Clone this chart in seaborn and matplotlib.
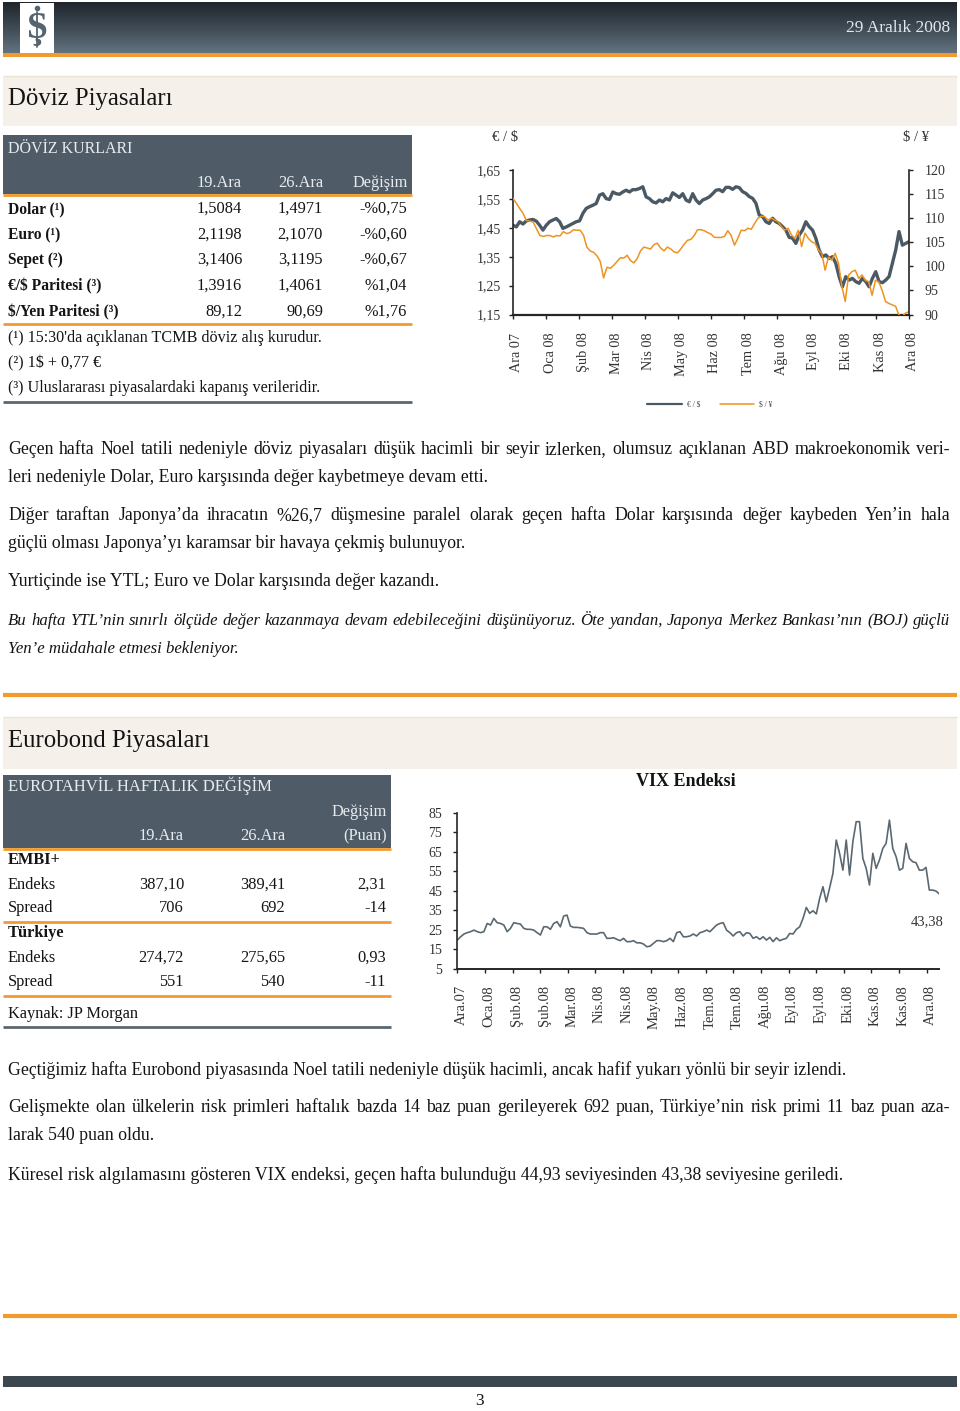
import numpy as np
import pandas as pd
import matplotlib
matplotlib.use("Agg")
import matplotlib.pyplot as plt
import seaborn as sns
from matplotlib.patches import Rectangle
from matplotlib.lines import Line2D
from matplotlib.colors import LinearSegmentedColormap
from matplotlib.transforms import ScaledTranslation

# --- DATA ---
fx_cols = ['19.Ara', '26.Ara', 'Değişim']
fx_rows = ['Dolar (¹)', 'Euro (¹)', 'Sepet (²)', '€/$ Paritesi (³)', '$/Yen Paritesi (³)']
fx_19 = ['1,5084', '2,1198', '3,1406', '1,3916', '89,12']
fx_26 = ['1,4971', '2,1070', '3,1195', '1,4061', '90,69']
fx_chg = ['-%0,75', '-%0,60', '-%0,67', '%1,04', '%1,76']
fx_notes = ["(¹) 15:30'da açıklanan TCMB döviz alış kurudur.",
            "(²) 1$ + 0,77 €",
            "(³) Uluslararası piyasalardaki kapanış verileridir."]

bond_rows = ['EMBI+', 'Endeks', 'Spread', 'Türkiye', 'Endeks', 'Spread']
bond_19 = ['', '387,10', '706', '', '274,72', '551']
bond_26 = ['', '389,41', '692', '', '275,65', '540']
bond_chg = ['', '2,31', '-14', '', '0,93', '-11']

fx_months = ['Ara 07', 'Oca 08', 'Şub 08', 'Mar 08', 'Nis 08', 'May 08', 'Haz 08',
             'Tem 08', 'Ağu 08', 'Eyl 08', 'Eki 08', 'Kas 08', 'Ara 08']

eurusd = [
    1.459, 1.453, 1.471, 1.463, 1.474, 1.477, 1.479, 1.473, 1.459, 1.442,
    1.459, 1.471, 1.477, 1.482, 1.471, 1.448, 1.453, 1.459, 1.465, 1.471,
    1.474, 1.500, 1.517, 1.523, 1.528, 1.534, 1.563, 1.568, 1.551, 1.548,
    1.574, 1.568, 1.566, 1.574, 1.580, 1.574, 1.582, 1.582, 1.586, 1.592,
    1.557, 1.551, 1.540, 1.536, 1.546, 1.540, 1.551, 1.546, 1.571, 1.563,
    1.555, 1.568, 1.546, 1.540, 1.568, 1.546, 1.534, 1.546, 1.551, 1.557,
    1.568, 1.580, 1.582,
    1.575, 1.590, 1.590, 1.583, 1.592, 1.589, 1.575, 1.569, 1.558, 1.552,
    1.535, 1.494, 1.489, 1.471, 1.465, 1.483, 1.471, 1.465, 1.454, 1.442,
    1.417, 1.414, 1.396, 1.425, 1.442, 1.471, 1.454, 1.442, 1.414, 1.373,
    1.350, 1.356, 1.344, 1.350, 1.327, 1.281, 1.246, 1.281, 1.269, 1.275,
    1.264, 1.258, 1.275, 1.264, 1.246, 1.275, 1.298, 1.264, 1.260, 1.269,
    1.281, 1.327, 1.373, 1.437, 1.390, 1.396, 1.402]

usdjpy = [
    114.1, 113.1, 112.0, 111.0, 109.5, 109.4, 109.2, 107.8, 106.4, 106.2,
    106.4, 106.4, 106.1, 106.4, 106.3, 107.2, 106.8, 107.0, 107.6, 107.5,
    107.5, 106.5, 104.0, 103.2, 102.9, 102.2, 101.0, 97.6, 99.8, 99.6,
    100.2, 101.0, 101.8, 101.7, 102.3, 101.2, 100.7, 101.6, 103.2, 104.0,
    103.8, 103.6, 104.5, 104.8, 103.8, 103.2, 104.0, 103.6, 103.0, 102.8,
    103.6, 104.6, 105.4, 105.6, 106.4, 107.6, 107.6, 107.4, 107.0, 106.7,
    106.0, 106.0, 106.0,
    106.2, 107.4, 106.4, 104.4, 105.8, 107.5, 107.4, 107.9, 107.7, 108.9,
    110.0, 110.4, 110.3, 109.6, 110.0, 109.6, 109.3, 108.2, 107.5, 107.9,
    106.5, 105.8, 107.5, 104.1, 106.9, 105.8, 105.1, 104.8, 103.4, 102.7,
    99.2, 101.9, 101.3, 102.7, 100.6, 95.8, 92.7, 98.2, 98.9, 99.2,
    97.5, 98.2, 97.1, 96.8, 94.0, 97.1, 96.8, 95.0, 92.7, 92.3,
    92.0, 91.7, 89.9, 89.6, 90.3, 90.6]

vix_months = ['Ara.07', 'Oca.08', 'Şub.08', 'Şub.08', 'Mar.08', 'Nis.08', 'Nis.08',
              'May.08', 'Haz.08', 'Tem.08', 'Tem.08', 'Ağu.08', 'Eyl.08', 'Eyl.08',
              'Eki.08', 'Kas.08', 'Kas.08', 'Ara.08']

vix = [
    19.8, 21.5, 22.9, 23.6, 24.1, 24.9, 24.1, 23.6, 24.1, 28.3,
    27.5, 30.9, 28.7, 28.3, 27.5, 24.1, 25.8, 28.7, 28.3, 28.0,
    25.8, 25.3, 25.3, 24.9, 23.6, 22.4, 26.6, 26.6, 25.3, 28.3,
    29.2, 26.6, 32.1, 32.6, 27.0, 26.3, 26.3, 26.1, 25.8, 23.6,
    22.9, 22.9, 22.9, 23.6, 23.6, 20.7, 20.7, 21.0, 20.2, 19.5,
    20.7, 19.0, 19.0, 19.5, 18.4, 18.4, 17.8, 16.4, 16.7, 18.1,
    19.5, 19.5, 19.0, 19.5, 20.7, 19.0, 23.6, 24.1, 21.5, 21.5,
    21.9, 22.9, 21.9,
    23.6, 24.1, 24.9, 24.1, 25.8, 27.5, 28.3, 28.7, 24.9, 23.6,
    21.9, 23.6, 24.1, 21.9, 23.6, 23.2, 20.7, 21.5, 20.2, 21.5,
    19.8, 21.2, 19.0, 21.0, 19.5, 20.2, 20.7, 23.2, 22.9, 25.3,
    26.6, 30.9, 36.5, 33.5, 34.8, 33.2, 41.1, 47.1, 39.4, 46.5,
    53.9, 71.0, 64.2, 55.6, 71.0, 53.1, 70.2, 80.4, 80.4, 61.6,
    56.5, 48.0, 64.2, 56.5, 60.8, 66.7, 69.3, 81.2, 66.7, 62.5,
    55.6, 56.5, 69.3, 61.6, 59.9, 59.4, 55.6, 55.6, 57.0, 45.4,
    45.4, 44.9, 43.4]
vix_last = '43,38'

# --- STYLE ---
SLATE = '#4f5c68'
ORANGE = '#f29a2e'
LINE_DARK = '#4b5964'
LINE_OR = '#ee931f'
TXT = '#141414'
BODY = 12.8

sns.set_theme(style="ticks")
plt.rcParams['font.family'] = ['Liberation Serif', 'DejaVu Serif']

W, H = 960, 1411
fig = plt.figure(figsize=(W / 100, H / 100), dpi=100)
page = fig.add_axes([0, 0, 1, 1])
page.axis('off')


def put(x, y, s, size=11.5, ha='left', color=TXT, weight='normal', style='normal'):
    page.text(x, y, s, fontsize=size, ha=ha, va='center', color=color,
              fontweight=weight, fontstyle=style)


def justify(y, s, x0=8, x1=950, size=BODY, style='normal'):
    words = s.split(' ')
    objs = [page.text(x0, y, w, fontsize=size, va='center', ha='left', color=TXT,
                      fontstyle=style) for w in words]
    r = fig.canvas.get_renderer()
    widths = [o.get_window_extent(renderer=r).width for o in objs]
    gap = (x1 - x0 - sum(widths)) / max(len(words) - 1, 1)
    x = x0
    for o, w in zip(objs, widths):
        o.set_x(x)
        x += w + gap


def hline(y, x0, x1, color, lw):
    page.plot([x0, x1], [y, y], color=color, lw=lw, solid_capstyle='butt')


def shift_xlabels(ax, px):
    off = ScaledTranslation(px / 100, 0, fig.dpi_scale_trans)
    for lab in ax.get_xticklabels():
        lab.set_transform(lab.get_transform() + off)


# header bar
grad = np.linspace(0, 1, 60).reshape(-1, 1)
cmap = LinearSegmentedColormap.from_list('hdr', ['#20262c', '#3e4a54', '#627380'])
page.imshow(grad, extent=(3, 957, 53, 2), aspect='auto', cmap=cmap, origin='upper')
page.add_patch(Rectangle((3, 53), 954, 4, fc=ORANGE, ec='none'))
page.add_patch(Rectangle((20, 3), 34, 50, fc='white', ec='none'))
page.text(37, 29, 'Ş', fontsize=27, ha='center', va='center', color='#56646f', fontweight='bold')
page.plot([37, 37], [12, 47], color='#56646f', lw=1.3)
page.plot([37], [8], marker='o', ms=3, color='#56646f')
put(950, 28, '29 Aralık 2008', size=12.5, ha='right', color='#e3e7ea')

# section bands
for y0, h, title in [(76, 50, 'Döviz Piyasaları'), (717, 52, 'Eurobond Piyasaları')]:
    page.add_patch(Rectangle((3, y0), 954, h, fc='#f5f1ea', ec='none'))
    hline(y0, 3, 957, '#ede3d4', 1)
    put(8, y0 + h / 2 - 2, title, size=17.8)

# table 1
page.add_patch(Rectangle((3, 135), 409, 59, fc=SLATE, ec='none'))
put(8, 149, 'DÖVİZ KURLARI', size=11.5, color='#e9ecef')
for x, c in zip([242, 323, 408], fx_cols):
    put(x, 183, c, size=11.8, ha='right', color='#e9ecef')
hline(194.5, 3, 412, ORANGE, 2)
for y, lab, a, b, c in zip([209, 235, 260, 286, 312], fx_rows, fx_19, fx_26, fx_chg):
    put(8, y, lab, weight='bold', size=11.2)
    put(242, y, a, ha='right', size=11.8)
    put(323, y, b, ha='right', size=11.8)
    put(407, y, c, ha='right', size=11.8)
hline(324, 3, 412, ORANGE, 2)
for y, n in zip([338, 363, 388], fx_notes):
    put(8, y, n, size=11.6)
hline(402, 3, 412, '#5b6770', 2)

# table 2
page.add_patch(Rectangle((3, 775), 388, 73, fc=SLATE, ec='none'))
put(8, 786, 'EUROTAHVİL HAFTALIK DEĞİŞİM', size=12, color='#e9ecef')
put(387, 812, 'Değişim', ha='right', size=11.8, color='#e9ecef')
for x, c in zip([184, 285, 387], ['19.Ara', '26.Ara', '(Puan)']):
    put(x, 836, c, ha='right', size=11.8, color='#e9ecef')
hline(849, 3, 391, ORANGE, 2)
for y, lab, a, b, c in zip([860, 885, 908, 933, 958, 982], bond_rows, bond_19, bond_26, bond_chg):
    bold = 'bold' if a == '' else 'normal'
    put(8, y, lab, weight=bold, size=11.8)
    put(184, y, a, ha='right', size=11.8)
    put(285, y, b, ha='right', size=11.8)
    put(386, y, c, ha='right', size=11.8)
hline(922, 3, 391, ORANGE, 2)
hline(996, 3, 391, ORANGE, 2)
put(8, 1014, 'Kaynak: JP Morgan', size=11.8)
hline(1027, 3, 391, '#5b6770', 2)

# paragraphs
justify(450, 'Geçen hafta Noel tatili nedeniyle döviz piyasaları düşük hacimli bir seyir izlerken, '
        'olumsuz açıklanan ABD makroekonomik veri-')
put(8, 478, 'leri nedeniyle Dolar, Euro karşısında değer kaybetmeye devam etti.', size=BODY)
justify(516, 'Diğer taraftan Japonya’da ihracatın %26,7 düşmesine paralel olarak geçen hafta '
        'Dolar karşısında değer kaybeden Yen’in hala')
put(8, 544, 'güçlü olması Japonya’yı karamsar bir havaya çekmiş bulunuyor.', size=BODY)
put(8, 582, 'Yurtiçinde ise YTL; Euro ve Dolar karşısında değer kazandı.', size=BODY)
justify(621, 'Bu hafta YTL’nin sınırlı ölçüde değer kazanmaya devam edebileceğini düşünüyoruz. '
        'Öte yandan, Japonya Merkez Bankası’nın (BOJ) güçlü', size=12.1, style='italic')
put(8, 649, 'Yen’e müdahale etmesi bekleniyor.', size=12.1, style='italic')
hline(695, 3, 957, ORANGE, 3)

put(8, 1070, 'Geçtiğimiz hafta Eurobond piyasasında Noel tatili nedeniyle düşük hacimli, '
    'ancak hafif yukarı yönlü bir seyir izlendi.', size=BODY)
justify(1108, 'Gelişmekte olan ülkelerin risk primleri haftalık bazda 14 baz puan gerileyerek '
        '692 puan, Türkiye’nin risk primi 11 baz puan aza-')
put(8, 1136, 'larak 540 puan oldu.', size=BODY)
put(8, 1175, 'Küresel risk algılamasını gösteren VIX endeksi, geçen hafta bulunduğu 44,93 '
    'seviyesinden 43,38 seviyesine geriledi.', size=BODY)

hline(1316, 3, 957, ORANGE, 3)
page.add_patch(Rectangle((3, 1376), 954, 11, fc='#3b464f', ec='none'))
put(480, 1401, '3', ha='center', size=12.5)

page.set_xlim(0, W)
page.set_ylim(H, 0)

# --- chart 1: EUR/USD and USD/JPY ---
ax1 = fig.add_axes([513 / W, 1 - 314.5 / H, 396 / W, 144.5 / H])
ax1.patch.set_alpha(0)
df_fx = pd.DataFrame({'t': np.linspace(0, 12, len(eurusd)), 'eur': eurusd})
df_jp = pd.DataFrame({'t': np.linspace(0, 12, len(usdjpy)), 'jpy': usdjpy})
sns.lineplot(data=df_fx, x='t', y='eur', ax=ax1, color=LINE_DARK, linewidth=2.4)
ax2 = ax1.twinx()
sns.lineplot(data=df_jp, x='t', y='jpy', ax=ax2, color=LINE_OR, linewidth=1.1)
ax1.set_xlim(0, 12)
ax1.set_ylim(1.15, 1.65)
ax2.set_ylim(90, 120)
ax1.set_yticks(np.arange(1.15, 1.66, 0.1))
ax1.set_yticklabels([f'{v:.2f}'.replace('.', ',') for v in np.arange(1.15, 1.66, 0.1)])
ax2.set_yticks(range(90, 121, 5))
ax1.set_xticks(range(13))
ax1.set_xticklabels(fx_months, rotation=90)
for a in (ax1, ax2):
    a.set_xlabel('')
    a.set_ylabel('')
    a.spines['top'].set_visible(False)
    a.tick_params(length=3, width=1, color='#222', labelsize=10, labelcolor='#333')
ax1.spines['right'].set_visible(False)
ax2.spines['left'].set_visible(False)
ax2.spines['bottom'].set_visible(False)
ax1.spines['left'].set_linewidth(1.2)
ax2.spines['right'].set_linewidth(1.2)
ax1.spines['bottom'].set_linewidth(1.6)
ax1.tick_params(axis='x', pad=10, labelsize=10.3)
ax1.tick_params(axis='y', pad=5.6)
ax2.tick_params(axis='y', pad=8.5)
shift_xlabels(ax1, 4)
for a in (ax1, ax2):
    if a.get_legend():
        a.get_legend().remove()
put(505, 138, '€ / $', ha='center', size=10.5, color='#333')
put(916, 138, '$ / ¥', ha='center', size=10.5, color='#333')
handles = [Line2D([], [], color=LINE_DARK, lw=1.6), Line2D([], [], color=LINE_OR, lw=1.1)]
fig.legend(handles, ['€ / $', '$ / ¥'], loc='center', bbox_to_anchor=(710 / W, 1 - 405 / H),
           ncol=2, frameon=False, fontsize=5.5, handlelength=4.5, handletextpad=0.7,
           columnspacing=2.5, labelcolor='#444')

# --- chart 2: VIX ---
ax3 = fig.add_axes([457.3 / W, 1 - 969 / H, 482 / W, 156.3 / H])
ax3.patch.set_alpha(0)
df_vix = pd.DataFrame({'t': np.linspace(0, 17.46, len(vix)), 'vix': vix})
sns.lineplot(data=df_vix, x='t', y='vix', ax=ax3, color='#5a6872', linewidth=1.2)
ax3.set_xlim(0, 17.46)
ax3.set_ylim(5, 85)
ax3.set_yticks(range(5, 86, 10))
ax3.set_xticks(range(18))
ax3.set_xticklabels(vix_months, rotation=90)
ax3.set_xlabel('')
ax3.set_ylabel('')
sns.despine(ax=ax3)
ax3.spines['left'].set_linewidth(1.2)
ax3.spines['bottom'].set_linewidth(1.4)
ax3.tick_params(length=3, width=1, color='#222', labelsize=10, labelcolor='#333')
ax3.tick_params(axis='y', pad=7.8)
ax3.tick_params(axis='x', pad=8.5, labelsize=10.5)
shift_xlabels(ax3, 4)
if ax3.get_legend():
    ax3.get_legend().remove()
put(686, 782, 'VIX Endeksi', ha='center', size=13, weight='bold')
put(944, 922, vix_last, ha='right', size=10.5, color='#333')

fig.savefig('out.png', dpi=100)
